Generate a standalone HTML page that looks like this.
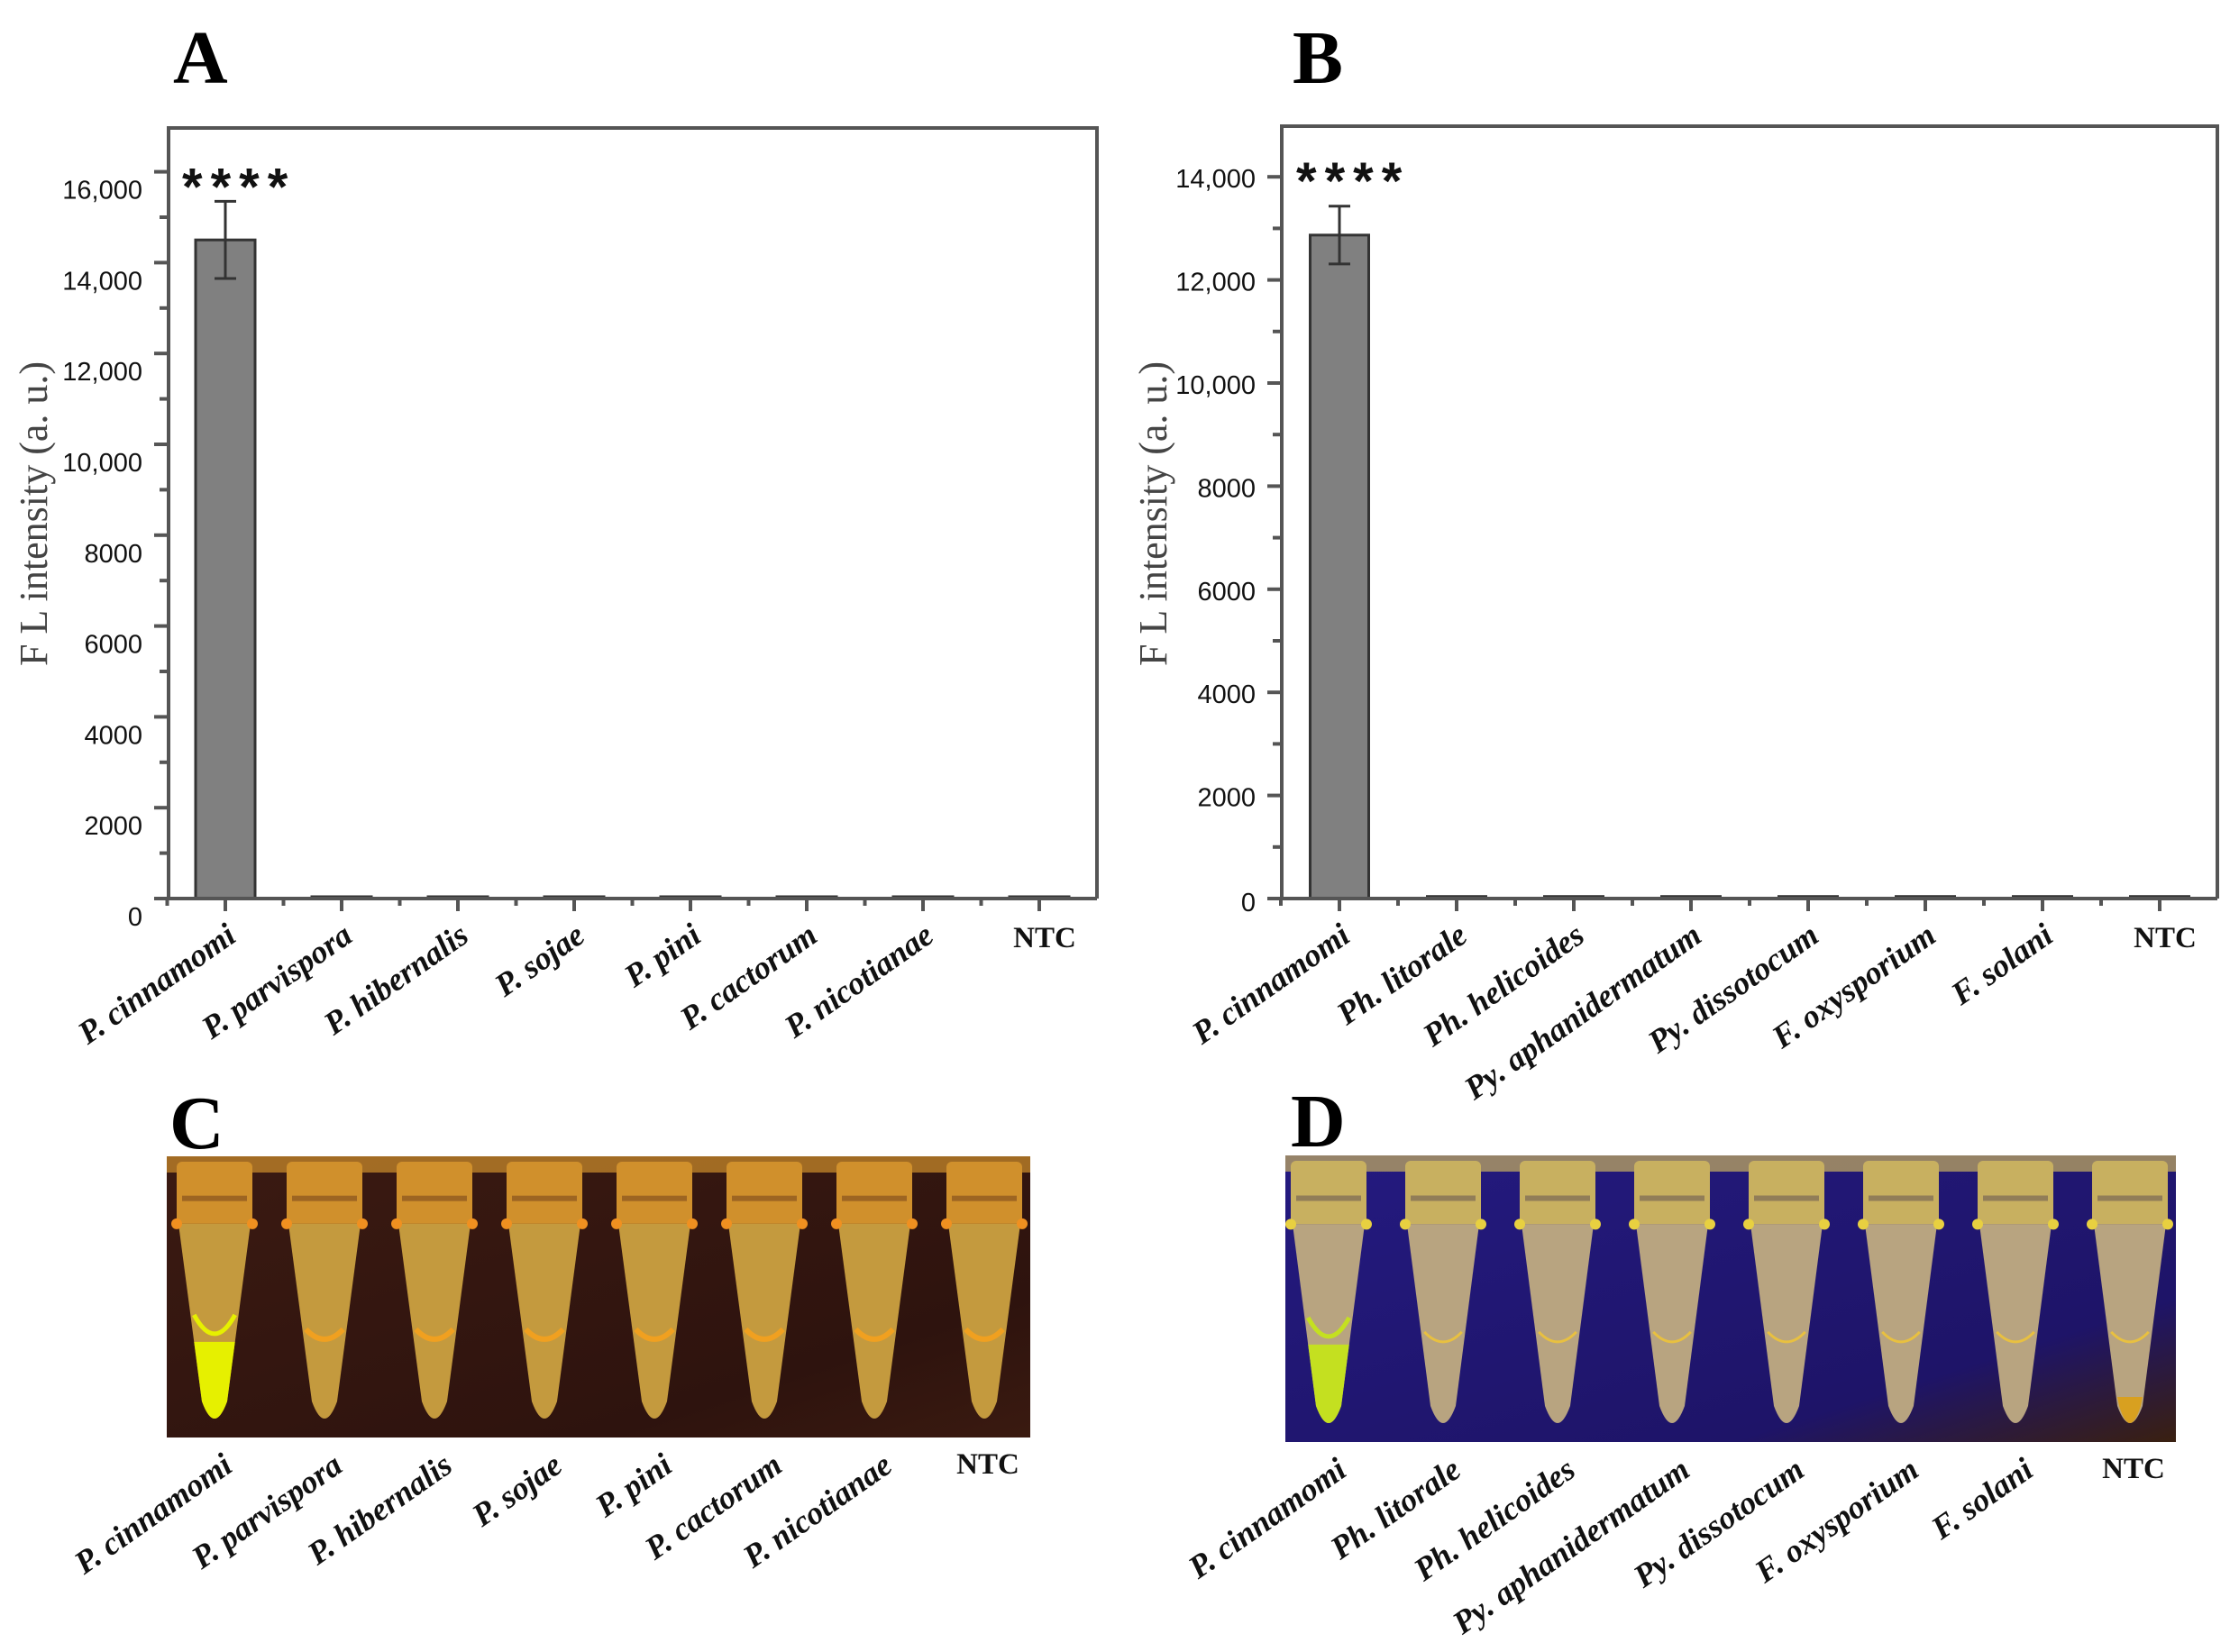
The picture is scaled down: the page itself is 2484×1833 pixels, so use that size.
<!DOCTYPE html>
<html><head><meta charset="utf-8"><style>
html,body{margin:0;padding:0;background:#fff;}
svg{display:block;}
</style></head><body>
<svg id="fig" xmlns="http://www.w3.org/2000/svg" width="2484" height="1833" viewBox="0 0 2484 1833">
<rect x="0" y="0" width="2484" height="1833" fill="#ffffff"/>
<text x="192" y="92" font-family="Liberation Serif, serif" font-weight="bold" font-size="84" fill="#000">A</text>
<text x="1434" y="92" font-family="Liberation Serif, serif" font-weight="bold" font-size="84" fill="#000">B</text>
<text x="188" y="1274" font-family="Liberation Serif, serif" font-weight="bold" font-size="84" fill="#000">C</text>
<text x="1432" y="1272" font-family="Liberation Serif, serif" font-weight="bold" font-size="84" fill="#000">D</text>
<g id="chartA"></g>
<g id="chartB"></g>
<g id="photoC"></g>
<g id="photoD"></g>
</svg>
<script>
const categoriesA = ["P. cinnamomi","P. parvispora","P. hibernalis","P. sojae","P. pini","P. cactorum","P. nicotianae","NTC"];
const valuesA = [14500, 40, 40, 40, 40, 40, 40, 40];
const errorsA = [850, 0, 0, 0, 0, 0, 0, 0];
const ticksA = [0,2000,4000,6000,8000,10000,12000,14000,16000];
const tickLabelsA = ["0","2000","4000","6000","8000","10,000","12,000","14,000","16,000"];

const categoriesB = ["P. cinnamomi","Ph. litorale","Ph. helicoides","Py. aphanidermatum","Py. dissotocum","F. oxysporium","F. solani","NTC"];
const valuesB = [12870, 40, 40, 40, 40, 40, 40, 40];
const errorsB = [560, 0, 0, 0, 0, 0, 0, 0];
const ticksB = [0,2000,4000,6000,8000,10000,12000,14000];
const tickLabelsB = ["0","2000","4000","6000","8000","10,000","12,000","14,000"];

const NS = "http://www.w3.org/2000/svg";
function mk(parent, tag, attrs, text){
  const e = document.createElementNS(NS, tag);
  for (const k in attrs) e.setAttribute(k, attrs[k]);
  if (text !== undefined) e.textContent = text;
  parent.appendChild(e);
  return e;
}

function drawChart(g, cfg, cats, vals, errs, ticks, tickLabels){
  const x0 = cfg.left, x1 = cfg.right, yTop = cfg.top, y0 = cfg.zero;
  const yScale = v => y0 - v * cfg.pxPer;
  const xCenter = i => cfg.firstCenter + i * cfg.step;
  const frame = mk(g, "path", {d:`M${x0},${y0} L${x0},${yTop} L${x1},${yTop} L${x1},${y0}`, fill:"none", stroke:"#555", "stroke-width":4});
  
  
  const maxV = ticks[ticks.length-1];
  for (let v = 0; v <= maxV + 1000; v += 1000){
    const y = yScale(v);
    if (y < yTop) break;
    const major = v % 2000 === 0;
    const t = mk(g, "line", {x1:x0 - (major?16:10), x2:x0, y1:y, y2:y, stroke:"#555", "stroke-width":4});
    
    
  }
  ticks.forEach((v, i) => {
    const lab = mk(g, "text", {x:cfg.labelRight, y:yScale(v) + (i===0 ? cfg.zeroOff : cfg.labelOff), "text-anchor":"end", "font-family":"Liberation Sans, sans-serif", "font-size":29, fill:"#111"}, tickLabels[i]);
    
    
  });
  const yt = mk(g, "text", {x:0, y:0, transform:`translate(${cfg.titleX},${cfg.titleY}) rotate(-90)`, "text-anchor":"middle", "font-family":"Liberation Serif, serif", "font-size":44, fill:"#444"}, "F L intensity (a. u.)");
  
  
  const bw = cfg.barWidth;
  vals.forEach((v, i) => {
    const cx = xCenter(i);
    const b = mk(g, "rect", {x:cx - bw/2, y:yScale(v), width:bw, height:y0 - yScale(v), fill:"#808080", stroke:"#333", "stroke-width":3});
    
    
    if (errs[i] > 0){
      const eg = mk(g, "path", {d:`M${cx},${yScale(v+errs[i])} L${cx},${yScale(v-errs[i])} M${cx-12},${yScale(v+errs[i])} L${cx+12},${yScale(v+errs[i])} M${cx-12},${yScale(v-errs[i])} L${cx+12},${yScale(v-errs[i])}`, fill:"none", stroke:"#333", "stroke-width":3});
      
      
      const st = mk(g, "text", {x:cx - 48, y:yScale(v+errs[i]) + cfg.starOff, "font-family":"Liberation Sans, sans-serif", "font-weight":"bold", "font-size":58, "letter-spacing":"9", fill:"#111"}, "****");
      
      
    }
  });
  const xa = mk(g, "line", {x1:x0 - 16, x2:x1, y1:y0, y2:y0, stroke:"#555", "stroke-width":4});
  
  
  for (let i = 0; i < cats.length; i++){
    const cx = xCenter(i);
    const t = mk(g, "line", {x1:cx, x2:cx, y1:y0, y2:y0+14, stroke:"#555", "stroke-width":4});
    
    
    const m = mk(g, "line", {x1:cx - cfg.step/2, x2:cx - cfg.step/2, y1:y0, y2:y0+8, stroke:"#555", "stroke-width":4});
    
    
  }
  cats.forEach((c, i) => {
    const cx = xCenter(i);
    let lab;
    if (c === "NTC"){
      lab = mk(g, "text", {x:cx + 6, y:y0 + 54, "text-anchor":"middle", "font-family":"Liberation Serif, serif", "font-weight":"bold", "font-size":33, fill:"#111"}, c);
    } else {
      lab = mk(g, "text", {x:0, y:0, transform:`translate(${cx + 14},${y0 + 46}) rotate(-35)`, "text-anchor":"end", "font-family":"Liberation Serif, serif", "font-weight":"bold", "font-style":"italic", "font-size":36, fill:"#111"}, c);
    }
    
    
  });
}

drawChart(document.getElementById("chartA"),
  {left:187, right:1217, top:142, zero:997, pxPer:0.0504, firstCenter:250, step:129, barWidth:66, labelRight:158, titleX:52, titleY:570, labelOff:30, zeroOff:30, starOff:4},
  categoriesA, valuesA, errorsA, ticksA, tickLabelsA);
drawChart(document.getElementById("chartB"),
  {left:1422, right:2460, top:140, zero:997, pxPer:0.0572, firstCenter:1486, step:130, barWidth:65, labelRight:1393, titleX:1294, titleY:570, labelOff:12, zeroOff:14, starOff:-8},
  categoriesB, valuesB, errorsB, ticksB, tickLabelsB);

function drawPhoto(g, cfg, cats){
  const defs = mk(g, "defs", {});
  const lg = mk(defs, "linearGradient", {id:cfg.id+"bg", x1:"0", y1:"0", x2:"1", y2:"1"});
  mk(lg, "stop", {offset:"0", "stop-color":cfg.bg1});
  mk(lg, "stop", {offset:"0.75", "stop-color":cfg.bg2});
  mk(lg, "stop", {offset:"1", "stop-color":cfg.bg3});
  const bg = mk(g, "rect", {x:cfg.left, y:cfg.top, width:cfg.right-cfg.left, height:cfg.bottom-cfg.top, fill:`url(#${cfg.id}bg)`});
  
  
  const band = mk(g, "rect", {x:cfg.left, y:cfg.top, width:cfg.right-cfg.left, height:18, fill:cfg.cap, opacity:0.7});
  
  
  const H = cfg.bottom - cfg.top;
  cats.forEach((c, i) => {
    const cx = cfg.firstCenter + i * cfg.step;
    const rim = cfg.top + H*0.24, tip = cfg.bottom - 10, liq = cfg.top + H*0.66;
    const tg = mk(g, "g", {});
    
    
    mk(tg, "rect", {x:cx-42, y:cfg.top+6, width:84, height:rim-cfg.top-6, rx:6, fill:cfg.cap});
    mk(tg, "rect", {x:cx-36, y:cfg.top+H*0.14, width:72, height:6, fill:cfg.capDark, opacity:0.5});
    const body = `M${cx-40},${rim} L${cx-14},${tip-30} Q${cx},${tip+8} ${cx+14},${tip-30} L${cx+40},${rim} Z`;
    mk(tg, "path", {d:body, fill:cfg.tube});
    mk(tg, "circle", {cx:cx-42, cy:rim, r:6, fill:cfg.glow});
    mk(tg, "circle", {cx:cx+42, cy:rim, r:6, fill:cfg.glow});
    const t = (liq - rim) / (tip - 30 - rim);
    const hw = 40 - 26 * t;
    if (i === 0){
      mk(tg, "path", {d:`M${cx-hw},${liq} L${cx-14},${tip-30} Q${cx},${tip+8} ${cx+14},${tip-30} L${cx+hw},${liq} Z`, fill:cfg.fluor});
      mk(tg, "path", {d:`M${cx-hw},${liq-30} Q${cx},${liq+12} ${cx+hw},${liq-30}`, fill:"none", stroke:cfg.fluor, "stroke-width":5});
    } else {
      mk(tg, "path", {d:`M${cx-hw+2},${liq-14} Q${cx},${liq+8} ${cx+hw-2},${liq-14}`, fill:"none", stroke:cfg.menis, "stroke-width":cfg.menisW});
    }
    if (c === "NTC" && cfg.ntcTip){
      mk(tg, "path", {d:`M${cx-14},${tip-40} L${cx-12},${tip-30} Q${cx},${tip+8} ${cx+12},${tip-30} L${cx+14},${tip-40} Z`, fill:cfg.ntcTip});
    }
    let lab;
    if (c === "NTC"){
      lab = mk(g, "text", {x:cx + 4, y:cfg.bottom + 40, "text-anchor":"middle", "font-family":"Liberation Serif, serif", "font-weight":"bold", "font-size":33, fill:"#111"}, c);
    } else {
      lab = mk(g, "text", {x:0, y:0, transform:`translate(${cx + 22},${cfg.bottom + 36}) rotate(-35)`, "text-anchor":"end", "font-family":"Liberation Serif, serif", "font-weight":"bold", "font-style":"italic", "font-size":36, fill:"#111"}, c);
    }
    
    
  });
}

drawPhoto(document.getElementById("photoC"),
  {id:"c", left:185, right:1143, top:1283, bottom:1595, firstCenter:238, step:122,
   bg1:"#3b1a12", bg2:"#2e130e", bg3:"#3a1a10", cap:"#d0902c", capDark:"#6a3a18", tube:"#c49a3e", glow:"#f09020",
   fluor:"#e6f000", menis:"#f0a020", menisW:6, ntcTip:null},
  categoriesA);
drawPhoto(document.getElementById("photoD"),
  {id:"d", left:1426, right:2414, top:1282, bottom:1600, firstCenter:1474, step:127,
   bg1:"#241a80", bg2:"#1e1468", bg3:"#3a2010", cap:"#c8b060", capDark:"#5a4a50", tube:"#b8a480", glow:"#e8d040",
   fluor:"#c4e020", menis:"#e8c040", menisW:3, ntcTip:"#d8a020"},
  categoriesB);
</script>
</body></html>
